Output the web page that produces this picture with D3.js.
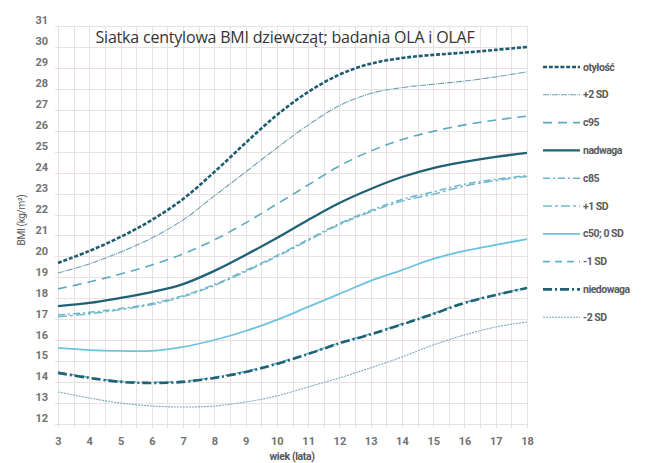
<!DOCTYPE html>
<html>
<head>
<meta charset="utf-8">
<script src="https://cdn.jsdelivr.net/npm/d3@7"></script>
<style>
  body { margin: 0; background: #fff; }
  text { font-family: "Open Sans", sans-serif; }
  .lab { font-family: Roboto, sans-serif; font-weight: 700; }
</style>
</head>
<body>
<div id="chart"></div>
<script>
// ages and y ticks
const ages = [3, 4, 5, 6, 7, 8, 9, 10, 11, 12, 13, 14, 15, 16, 17, 18];
const yTicks = [12, 13, 14, 15, 16, 17, 18, 19, 20, 21, 22, 23, 24, 25, 26, 27, 28, 29, 30, 31];

// centile curves (BMI per age)
const otylosc   = [19.69, 20.26, 20.93, 21.74, 22.74, 24.03, 25.42, 26.75, 27.85, 28.68, 29.20, 29.47, 29.62, 29.73, 29.86, 30.0];
const plus2SD   = [19.21, 19.64, 20.21, 20.88, 21.74, 22.89, 24.03, 25.18, 26.27, 27.20, 27.78, 28.06, 28.22, 28.37, 28.57, 28.81];
const c95       = [18.45, 18.78, 19.16, 19.59, 20.12, 20.79, 21.60, 22.50, 23.41, 24.32, 25.03, 25.58, 25.97, 26.28, 26.51, 26.70];
const nadwaga   = [17.63, 17.78, 18.02, 18.30, 18.68, 19.31, 20.07, 20.88, 21.74, 22.55, 23.22, 23.79, 24.22, 24.51, 24.75, 24.94];
const c85       = [17.20, 17.33, 17.51, 17.75, 18.13, 18.66, 19.33, 20.04, 20.81, 21.57, 22.19, 22.72, 23.08, 23.45, 23.68, 23.86];
const plus1SD   = [17.12, 17.26, 17.46, 17.70, 18.08, 18.61, 19.28, 19.99, 20.76, 21.52, 22.13, 22.64, 22.97, 23.36, 23.62, 23.82];
const c50       = [15.63, 15.53, 15.49, 15.49, 15.68, 16.01, 16.44, 16.97, 17.59, 18.21, 18.83, 19.35, 19.88, 20.26, 20.55, 20.83];
const minus1SD  = [14.47, 14.23, 14.04, 13.99, 14.04, 14.23, 14.51, 14.90, 15.37, 15.88, 16.31, 16.78, 17.28, 17.80, 18.18, 18.51];
const niedowaga = [14.44, 14.20, 14.01, 13.96, 14.01, 14.20, 14.48, 14.87, 15.34, 15.85, 16.28, 16.75, 17.25, 17.78, 18.16, 18.49];
const minus2SD  = [13.53, 13.24, 13.00, 12.86, 12.81, 12.86, 13.05, 13.34, 13.77, 14.20, 14.68, 15.20, 15.77, 16.25, 16.63, 16.87];

const seriesNames = ["otyłość", "+2 SD", "c95", "nadwaga", "c85", "+1 SD", "c50; 0 SD", "-1 SD", "niedowaga", "-2 SD"];
const seriesValues = [otylosc, plus2SD, c95, nadwaga, c85, plus1SD, c50, minus1SD, niedowaga, minus2SD];

// line styles per series
const styles = [
  { color: "#1e5d70", width: 2.6, dash: "4,1.8" },
  { color: "#6a9fae", width: 1.1, dash: "6,1,1,1" },
  { color: "#5aa9c0", width: 1.6, dash: "9,6" },
  { color: "#1f6175", width: 2.3, dash: null },
  { color: "#6ab5cb", width: 1.5, dash: "7,3,2,3" },
  { color: "#74b8cc", width: 1.5, dash: "9,3,3,3" },
  { color: "#6cc3df", width: 1.8, dash: null },
  { color: "#5fb3cf", width: 1.6, dash: "7,5" },
  { color: "#1f6175", width: 2.6, dash: "9,3,2,3" },
  { color: "#7aaab8", width: 1.1, dash: "2,1" }
];

const width = 645, height = 463;
const plot = { left: 58, right: 527, top: 26, bottom: 424 };

const svg = d3.select("#chart")
  .append("svg")
  .attr("width", width)
  .attr("height", height);

const x = d3.scaleLinear().domain([3, 18]).range([plot.left, plot.right]);
const y = d3.scaleLinear().domain([12, 31]).range([plot.bottom, plot.top]);

// grid
const grid = svg.append("g").attr("stroke", "#e9e1e1").attr("stroke-width", 1);
grid.selectAll(".vg")
  .data(d3.range(3, 18.01, 0.5))
  .enter().append("line")
  .attr("x1", d => Math.round(x(d)) + 0.5)
  .attr("x2", d => Math.round(x(d)) + 0.5)
  .attr("y1", plot.top)
  .attr("y2", plot.bottom + 4);
grid.selectAll(".hg")
  .data(yTicks)
  .enter().append("line")
  .attr("x1", plot.left - 3)
  .attr("x2", plot.right)
  .attr("y1", d => Math.round(y(d)) + 0.5)
  .attr("y2", d => Math.round(y(d)) + 0.5);

// y axis tick labels (sit a bit above their gridlines, as in the print)
const yAxis = d3.axisLeft(y).tickValues(yTicks).tickSize(0).tickPadding(10);
const gy = svg.append("g")
  .attr("transform", `translate(${plot.left},0)`)
  .call(yAxis);
gy.select(".domain").remove();
gy.selectAll("text")
  .attr("class", "lab")
  .attr("dy", "-0.2em")
  .style("font-size", "11px")
  .style("fill", "#727272");

// x axis tick labels
const xAxis = d3.axisBottom(x).tickValues(ages).tickSize(0).tickPadding(13);
const gx = svg.append("g")
  .attr("transform", `translate(0,${plot.bottom})`)
  .call(xAxis);
gx.select(".domain").remove();
gx.selectAll("text")
  .attr("class", "lab")
  .style("font-size", "11px")
  .style("fill", "#727272");

// axis titles
svg.append("text")
  .attr("transform", "translate(25,220) rotate(-90)")
  .attr("text-anchor", "middle")
  .style("font-family", "Roboto, sans-serif")
  .style("font-size", "10px")
  .style("fill", "#555")
  .style("letter-spacing", "-0.3px")
  .text("BMI (kg/m²)");

svg.append("text")
  .attr("class", "lab")
  .attr("x", 292)
  .attr("y", 460)
  .attr("text-anchor", "middle")
  .style("font-size", "10.5px")
  .style("fill", "#555")
  .style("letter-spacing", "-0.4px")
  .text("wiek (lata)");

// title
svg.append("text")
  .attr("x", 285)
  .attr("y", 43)
  .attr("text-anchor", "middle")
  .style("font-size", "16px")
  .style("fill", "#333")
  .style("letter-spacing", "-0.2px")
  .text("Siatka centylowa BMI dziewcząt; badania OLA i OLAF");

// curves
const line = d3.line()
  .x((d, i) => x(ages[i]))
  .y(d => y(d))
  .curve(d3.curveCatmullRom.alpha(0.5));

svg.append("g").selectAll("path")
  .data(seriesValues)
  .enter().append("path")
  .attr("d", d => line(d))
  .attr("fill", "none")
  .attr("stroke", (d, i) => styles[i].color)
  .attr("stroke-width", (d, i) => styles[i].width)
  .attr("stroke-dasharray", (d, i) => styles[i].dash);

// legend
const legend = svg.append("g");
const rows = legend.selectAll("g")
  .data(seriesNames)
  .enter().append("g")
  .attr("transform", (d, i) => `translate(543,${67 + i * 27.8})`);
rows.append("line")
  .attr("x1", 0).attr("x2", 37)
  .attr("stroke", (d, i) => styles[i].color)
  .attr("stroke-width", (d, i) => styles[i].width)
  .attr("stroke-dasharray", (d, i) => styles[i].dash);
rows.append("text")
  .attr("class", "lab")
  .attr("x", 40)
  .attr("dy", "0.35em")
  .style("font-size", "10.5px")
  .style("fill", "#5a5a5a")
  .style("letter-spacing", "-0.5px")
  .text(d => d);
</script>
</body>
</html>
